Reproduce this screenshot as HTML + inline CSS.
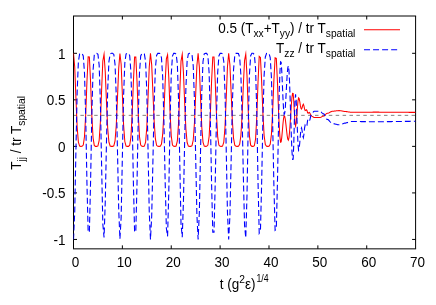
<!DOCTYPE html>
<html><head><meta charset="utf-8"><title>plot</title>
<style>
html,body{margin:0;padding:0;background:#fff;}
svg{display:block;}
text{font-family:"Liberation Sans",sans-serif;fill:#000;}
</style></head><body>
<svg width="436" height="305" viewBox="0 0 436 305">
<rect x="0" y="0" width="436" height="305" fill="#fff"/>

<defs><clipPath id="c"><rect x="73.5" y="16.0" width="342.1" height="232.85"/></clipPath><filter id="idf" x="0" y="0" width="436" height="305" filterUnits="userSpaceOnUse" color-interpolation-filters="sRGB"><feColorMatrix type="matrix" values="1 0 0 0 0 0 1 0 0 0 0 0 1 0 0 0 0 0 1 0"/></filter></defs>
<line x1="73.5" y1="115.35" x2="415.6" y2="115.35" stroke="#000" stroke-width="0.5" stroke-dasharray="3.5 3.4"/>
<g stroke="#000" stroke-width="1" fill="none">
<line x1="73.0" y1="16.0" x2="416.1" y2="16.0"/>
<line x1="73.0" y1="248.85" x2="416.1" y2="248.85"/>
<line x1="73.5" y1="16.0" x2="73.5" y2="248.85"/>
<line x1="415.6" y1="16.0" x2="415.6" y2="248.85"/>
<line x1="122.37" y1="248.85" x2="122.37" y2="245.35"/>
<line x1="122.37" y1="16.0" x2="122.37" y2="19.5"/>
<line x1="171.24" y1="248.85" x2="171.24" y2="245.35"/>
<line x1="171.24" y1="16.0" x2="171.24" y2="19.5"/>
<line x1="220.11" y1="248.85" x2="220.11" y2="245.35"/>
<line x1="220.11" y1="16.0" x2="220.11" y2="19.5"/>
<line x1="268.99" y1="248.85" x2="268.99" y2="245.35"/>
<line x1="268.99" y1="16.0" x2="268.99" y2="19.5"/>
<line x1="317.86" y1="248.85" x2="317.86" y2="245.35"/>
<line x1="317.86" y1="16.0" x2="317.86" y2="19.5"/>
<line x1="366.73" y1="248.85" x2="366.73" y2="245.35"/>
<line x1="366.73" y1="16.0" x2="366.73" y2="19.5"/>
<line x1="73.5" y1="239.44" x2="77.0" y2="239.44"/>
<line x1="415.6" y1="239.44" x2="412.1" y2="239.44"/>
<line x1="73.5" y1="192.91" x2="77.0" y2="192.91"/>
<line x1="415.6" y1="192.91" x2="412.1" y2="192.91"/>
<line x1="73.5" y1="146.37" x2="77.0" y2="146.37"/>
<line x1="415.6" y1="146.37" x2="412.1" y2="146.37"/>
<line x1="73.5" y1="99.84" x2="77.0" y2="99.84"/>
<line x1="415.6" y1="99.84" x2="412.1" y2="99.84"/>
<line x1="73.5" y1="53.30" x2="77.0" y2="53.30"/>
<line x1="415.6" y1="53.30" x2="412.1" y2="53.30"/>
</g>
<g clip-path="url(#c)" fill="none" stroke-linejoin="miter" stroke-miterlimit="10">
<polyline points="73.50,53.30 74.72,67.03 75.94,98.28 77.17,127.21 78.39,142.26 79.61,146.11 80.83,146.37 82.05,146.35 83.27,145.07 84.50,136.58 85.72,114.11 86.94,81.70 88.16,56.91 89.38,57.08 90.61,82.80 91.83,115.77 93.05,137.71 94.27,145.39 95.49,146.36 96.71,146.37 97.94,145.88 99.16,140.46 100.38,121.97 101.60,90.29 102.82,61.02 104.05,54.29 105.27,72.27 106.49,102.40 107.71,128.49 108.93,142.18 110.15,146.02 111.38,146.37 112.60,146.37 113.82,145.80 115.04,140.86 116.26,125.18 117.48,97.61 118.71,68.26 119.93,53.49 121.15,64.23 122.37,94.80 123.59,125.01 124.82,141.53 126.04,146.02 127.26,146.37 128.48,146.36 129.70,145.22 130.92,137.10 132.15,114.89 133.37,82.28 134.59,57.12 135.81,57.05 137.03,81.80 138.26,114.16 139.48,136.59 140.70,145.07 141.92,146.35 143.14,146.37 144.36,146.11 145.59,142.26 146.81,127.21 148.03,98.28 149.25,67.03 150.47,53.30 151.70,64.88 152.92,92.49 154.14,120.84 155.36,138.69 156.58,145.29 157.80,146.35 159.03,146.37 160.25,146.25 161.47,144.11 162.69,134.44 163.91,112.70 165.13,82.96 166.36,58.90 167.58,54.86 168.80,77.49 170.02,111.29 171.24,135.74 172.47,145.01 173.69,146.35 174.91,146.37 176.13,145.99 177.35,140.99 178.57,122.90 179.80,90.95 181.02,61.08 182.24,54.36 183.46,72.79 184.68,103.25 185.91,129.23 187.13,142.52 188.35,146.08 189.57,146.37 190.79,146.36 192.01,145.64 193.24,139.99 194.46,122.96 195.68,94.33 196.90,65.55 198.12,53.30 199.35,67.03 200.57,98.28 201.79,127.21 203.01,142.26 204.23,146.11 205.45,146.37 206.68,146.35 207.90,145.07 209.12,136.58 210.34,114.11 211.56,81.70 212.79,56.91 214.01,56.91 215.23,81.70 216.45,114.11 217.67,136.58 218.89,145.07 220.12,146.35 221.34,146.37 222.56,146.11 223.78,142.26 225.00,127.21 226.22,98.28 227.45,67.03 228.67,53.30 229.89,64.73 231.11,92.06 232.33,120.32 233.56,138.35 234.78,145.18 236.00,146.34 237.22,146.37 238.44,146.28 239.66,144.40 240.89,135.51 242.11,114.82 243.33,85.51 244.55,60.46 245.77,54.09 247.00,75.62 248.22,110.46 249.44,135.84 250.66,145.15 251.88,146.36 253.10,146.37 254.33,145.75 255.55,139.07 256.77,117.32 257.99,82.94 259.21,56.44 260.44,57.53 261.66,81.65 262.88,112.78 264.10,135.20 265.32,144.55 266.54,146.31 267.77,146.37 268.99,146.29 270.21,144.28 271.43,134.32 272.65,111.37 273.88,80.58 275.10,57.89 276.32,58.39 277.55,84.20 278.15,100.66 278.75,116.07 279.35,128.50 279.95,137.12 280.55,142.14 281.15,141.89 281.75,137.59 282.35,131.07 282.95,124.07 283.55,118.47 284.15,115.77 284.75,116.41 285.35,119.59 285.95,124.57 286.55,130.28 287.15,135.47 287.75,139.01 288.35,140.12 288.95,137.83 289.55,132.00 290.15,123.58 290.75,113.97 291.35,104.77 291.95,97.49 292.55,93.34 293.15,93.42 293.75,100.69 294.35,112.28 294.95,122.36 295.55,125.88 296.15,123.13 296.75,116.58 297.35,108.43 297.95,101.43 298.55,97.94 299.15,98.55 299.75,101.52 300.35,105.41 300.95,108.38 301.55,109.07 302.15,107.48 302.75,105.16 303.35,104.22 303.95,105.89 304.55,108.95 305.15,110.62 305.75,110.32 306.35,109.77 306.95,110.31 307.55,112.72 308.15,113.25 308.75,112.65 309.35,112.44 309.95,113.23 310.55,114.62 311.15,115.81 311.75,116.13 312.35,116.35 312.95,116.77 313.55,117.19 314.15,117.42 314.75,117.43 315.35,117.43 315.95,117.43 316.55,117.43 317.15,117.43 317.75,117.43 318.35,117.43 318.95,117.43 319.55,117.43 320.15,117.41 320.75,117.25 321.35,116.97 321.95,116.63 322.55,116.33 323.15,116.15 323.75,116.09 324.35,115.77 324.95,115.19 325.55,114.49 326.15,113.85 326.75,113.43 327.35,113.33 327.95,113.23 328.55,113.03 329.15,112.73 329.75,112.38 330.35,112.02 330.95,111.68 331.55,111.41 332.15,111.24 332.75,111.19 333.35,111.18 333.95,111.14 334.55,111.08 335.15,111.01 335.75,110.93 336.35,110.85 336.95,110.77 337.55,110.71 338.15,110.66 338.75,110.64 339.35,110.63 339.95,110.67 340.55,110.73 341.15,110.83 341.75,110.94 342.35,111.06 342.95,111.18 343.55,111.29 344.15,111.38 344.75,111.44 345.35,111.47 345.95,111.54 346.55,111.63 347.15,111.72 347.75,111.81 348.35,111.90 348.95,111.99 349.55,112.09 350.15,112.18 350.75,112.27 351.35,112.30 351.95,112.30 352.55,112.29 353.15,112.29 353.75,112.29 354.35,112.28 354.95,112.28 355.55,112.27 356.15,112.27 356.75,112.26 357.35,112.26 357.95,112.25 358.55,112.25 359.15,112.25 359.75,112.24 360.35,112.24 360.95,112.23 361.55,112.23 362.15,112.22 362.75,112.22 363.35,112.21 363.95,112.21 364.55,112.21 365.15,112.20 365.75,112.20 366.35,112.19 366.95,112.19 367.55,112.18 368.15,112.18 368.75,112.17 369.35,112.17 369.95,112.17 370.55,112.16 371.15,112.16 371.75,112.15 372.35,112.15 372.95,112.14 373.55,112.14 374.15,112.13 374.75,112.13 375.35,112.13 375.95,112.12 376.55,112.12 377.15,112.13 377.75,112.13 378.35,112.14 378.95,112.14 379.55,112.15 380.15,112.15 380.75,112.15 381.35,112.16 381.95,112.16 382.55,112.17 383.15,112.17 383.75,112.17 384.35,112.18 384.95,112.18 385.55,112.19 386.15,112.19 386.75,112.20 387.35,112.20 387.95,112.20 388.55,112.21 389.15,112.21 389.75,112.22 390.35,112.22 390.95,112.23 391.55,112.23 392.15,112.23 392.75,112.24 393.35,112.24 393.95,112.25 394.55,112.25 395.15,112.26 395.75,112.26 396.35,112.26 396.95,112.27 397.55,112.27 398.15,112.28 398.75,112.28 399.35,112.28 399.95,112.29 400.55,112.29 401.15,112.30 401.75,112.30 402.35,112.31 402.95,112.31 403.55,112.31 404.15,112.32 404.75,112.32 405.35,112.33 405.95,112.33 406.55,112.34 407.15,112.34 407.75,112.34 408.35,112.35 408.95,112.35 409.55,112.36 410.15,112.36 410.75,112.37 411.35,112.37 411.95,112.37 412.55,112.38 413.15,112.38 413.75,112.39 414.35,112.39 414.95,112.39 415.55,112.40 415.60,112.40" stroke="#ff0000" stroke-width="1.05"/>
<polyline points="73.50,239.44 74.72,211.98 75.94,149.49 77.17,91.62 78.39,61.52 79.61,53.82 80.83,53.30 82.05,53.34 83.27,55.90 84.50,72.89 85.72,117.81 86.94,182.64 88.16,232.22 89.38,231.89 90.61,180.43 91.83,114.49 93.05,70.61 94.27,55.26 95.49,53.32 96.71,53.30 97.94,54.27 99.16,65.13 100.38,102.10 101.60,165.46 102.82,224.01 104.05,237.47 105.27,201.50 106.49,141.24 107.71,89.05 108.93,61.68 110.15,54.00 111.38,53.30 112.60,53.31 113.82,54.45 115.04,64.32 116.26,95.67 117.48,150.82 118.71,209.52 119.93,239.05 121.15,217.57 122.37,156.44 123.59,96.01 124.82,62.98 126.04,53.99 127.26,53.30 128.48,53.33 129.70,55.60 130.92,71.84 132.15,116.26 133.37,181.49 134.59,231.81 135.81,231.95 137.03,182.45 138.26,117.71 139.48,72.86 140.70,55.90 141.92,53.34 143.14,53.30 144.36,53.82 145.59,61.52 146.81,91.62 148.03,149.49 149.25,211.98 150.47,239.44 151.70,216.27 152.92,161.06 154.14,104.37 155.36,68.66 156.58,55.47 157.80,53.35 159.03,53.30 160.25,53.53 161.47,57.82 162.69,77.15 163.91,120.64 165.13,180.12 166.36,228.24 167.58,236.31 168.80,191.07 170.02,123.45 171.24,74.57 172.47,56.02 173.69,53.34 174.91,53.30 176.13,54.06 177.35,64.05 178.57,100.25 179.80,164.14 181.02,223.87 182.24,237.32 183.46,200.46 184.68,139.54 185.91,87.59 187.13,61.00 188.35,53.88 189.57,53.30 190.79,53.31 192.01,54.75 193.24,66.06 194.46,100.12 195.68,157.39 196.90,214.95 198.12,239.44 199.35,211.98 200.57,149.49 201.79,91.62 203.01,61.52 204.23,53.82 205.45,53.30 206.68,53.34 207.90,55.90 209.12,72.89 210.34,117.81 211.56,182.64 212.79,232.22 214.01,232.22 215.23,182.64 216.45,117.81 217.67,72.89 218.89,55.90 220.12,53.34 221.34,53.30 222.56,53.82 223.78,61.52 225.00,91.62 226.22,149.49 227.45,211.98 228.67,239.44 229.89,216.58 231.11,161.93 232.33,105.40 233.56,69.33 234.78,55.67 236.00,53.36 237.22,53.30 238.44,53.48 239.66,57.23 240.89,75.01 242.11,116.40 243.33,175.01 244.55,225.12 245.77,237.85 247.00,194.81 248.22,125.13 249.44,74.37 250.66,55.74 251.88,53.32 253.10,53.30 254.33,54.53 255.55,67.91 256.77,111.41 257.99,180.16 259.21,233.17 260.44,230.99 261.66,182.75 262.88,120.48 264.10,75.63 265.32,56.95 266.54,53.42 267.77,53.30 268.99,53.46 270.21,57.49 271.43,77.40 272.65,123.30 273.88,184.88 275.10,230.25 276.32,229.25 277.55,177.64 278.15,144.72 278.75,113.91 279.35,89.05 279.95,71.81 280.55,61.77 281.15,62.26 281.75,70.86 282.35,83.90 282.95,97.89 283.55,109.09 284.15,114.49 284.75,113.21 285.35,106.86 285.95,96.89 286.55,85.47 287.15,75.09 287.75,68.02 288.35,65.80 288.95,70.37 289.55,82.04 290.15,98.88 290.75,118.09 291.35,136.50 291.95,151.06 292.55,159.35 293.15,159.20 293.75,144.67 294.35,121.49 294.95,101.32 295.55,94.28 296.15,99.78 296.75,112.89 297.35,129.19 297.95,143.18 298.55,150.16 299.15,148.94 299.75,142.99 300.35,135.23 300.95,129.28 301.55,127.91 302.15,131.09 302.75,135.72 303.35,137.60 303.95,134.26 304.55,128.14 305.15,124.80 305.75,125.40 306.35,126.50 306.95,125.42 307.55,120.60 308.15,119.54 308.75,120.74 309.35,121.17 309.95,119.59 310.55,116.79 311.15,114.42 311.75,113.78 312.35,113.33 312.95,112.49 313.55,111.65 314.15,111.21 314.75,111.19 315.35,111.19 315.95,111.19 316.55,111.19 317.15,111.19 317.75,111.19 318.35,111.19 318.95,111.19 319.55,111.19 320.15,111.22 320.75,111.53 321.35,112.10 321.95,112.77 322.55,113.37 323.15,113.74 323.75,113.86 324.35,114.49 324.95,115.66 325.55,117.06 326.15,118.34 326.75,119.18 327.35,119.39 327.95,119.57 328.55,119.99 329.15,120.58 329.75,121.28 330.35,122.01 330.95,122.68 331.55,123.22 332.15,123.56 332.75,123.66 333.35,123.69 333.95,123.76 334.55,123.88 335.15,124.02 335.75,124.18 336.35,124.34 336.95,124.49 337.55,124.62 338.15,124.72 338.75,124.77 339.35,124.77 339.95,124.71 340.55,124.57 341.15,124.39 341.75,124.16 342.35,123.92 342.95,123.68 343.55,123.46 344.15,123.28 344.75,123.16 345.35,123.10 345.95,122.97 346.55,122.78 347.15,122.60 347.75,122.42 348.35,122.23 348.95,122.05 349.55,121.87 350.15,121.69 350.75,121.50 351.35,121.43 351.95,121.44 352.55,121.45 353.15,121.46 353.75,121.47 354.35,121.48 354.95,121.49 355.55,121.49 356.15,121.50 356.75,121.51 357.35,121.52 357.95,121.53 358.55,121.54 359.15,121.55 359.75,121.56 360.35,121.57 360.95,121.58 361.55,121.58 362.15,121.59 362.75,121.60 363.35,121.61 363.95,121.62 364.55,121.63 365.15,121.64 365.75,121.65 366.35,121.66 366.95,121.66 367.55,121.67 368.15,121.68 368.75,121.69 369.35,121.70 369.95,121.71 370.55,121.72 371.15,121.73 371.75,121.74 372.35,121.75 372.95,121.75 373.55,121.76 374.15,121.77 374.75,121.78 375.35,121.79 375.95,121.80 376.55,121.79 377.15,121.78 377.75,121.77 378.35,121.77 378.95,121.76 379.55,121.75 380.15,121.74 380.75,121.73 381.35,121.72 381.95,121.72 382.55,121.71 383.15,121.70 383.75,121.69 384.35,121.68 384.95,121.67 385.55,121.66 386.15,121.66 386.75,121.65 387.35,121.64 387.95,121.63 388.55,121.62 389.15,121.61 389.75,121.61 390.35,121.60 390.95,121.59 391.55,121.58 392.15,121.57 392.75,121.56 393.35,121.55 393.95,121.55 394.55,121.54 395.15,121.53 395.75,121.52 396.35,121.51 396.95,121.50 397.55,121.50 398.15,121.49 398.75,121.48 399.35,121.47 399.95,121.46 400.55,121.45 401.15,121.44 401.75,121.44 402.35,121.43 402.95,121.42 403.55,121.41 404.15,121.40 404.75,121.39 405.35,121.39 405.95,121.38 406.55,121.37 407.15,121.36 407.75,121.35 408.35,121.34 408.95,121.33 409.55,121.33 410.15,121.32 410.75,121.31 411.35,121.30 411.95,121.29 412.55,121.28 413.15,121.28 413.75,121.27 414.35,121.26 414.95,121.25 415.55,121.24 415.60,121.24" stroke="#0000ff" stroke-width="1.1" stroke-dasharray="6 3"/>
</g>
<line x1="364" y1="29.75" x2="400" y2="29.75" stroke="#ff0000" stroke-width="1.05"/>
<line x1="364" y1="49.7" x2="397.4" y2="49.7" stroke="#0000ff" stroke-width="1.1" stroke-dasharray="6 3.05"/>
<g filter="url(#idf)">
<text transform="translate(75.50,267.40) scale(1,1.05)" font-size="13.5" text-anchor="middle">0</text>
<text transform="translate(124.37,267.40) scale(1,1.05)" font-size="13.5" text-anchor="middle">10</text>
<text transform="translate(173.24,267.40) scale(1,1.05)" font-size="13.5" text-anchor="middle">20</text>
<text transform="translate(222.11,267.40) scale(1,1.05)" font-size="13.5" text-anchor="middle">30</text>
<text transform="translate(270.99,267.40) scale(1,1.05)" font-size="13.5" text-anchor="middle">40</text>
<text transform="translate(319.86,267.40) scale(1,1.05)" font-size="13.5" text-anchor="middle">50</text>
<text transform="translate(368.73,267.40) scale(1,1.05)" font-size="13.5" text-anchor="middle">60</text>
<text transform="translate(417.60,267.40) scale(1,1.05)" font-size="13.5" text-anchor="middle">70</text>
<text transform="translate(65.40,244.74) scale(1,1.05)" font-size="13.5" text-anchor="end">-1</text>
<text transform="translate(65.40,198.21) scale(1,1.05)" font-size="13.5" text-anchor="end">-0.5</text>
<text transform="translate(65.40,151.67) scale(1,1.05)" font-size="13.5" text-anchor="end">0</text>
<text transform="translate(65.40,105.14) scale(1,1.05)" font-size="13.5" text-anchor="end">0.5</text>
<text transform="translate(65.40,58.60) scale(1,1.05)" font-size="13.5" text-anchor="end">1</text>
<text transform="translate(355.40,33.20) scale(1,1.05)" font-size="13.5" text-anchor="end">0.5 (T<tspan font-size="10.25" dy="3.7">xx</tspan><tspan dy="-3.7">+T</tspan><tspan font-size="10.25" dy="3.7">yy</tspan><tspan dy="-3.7">) / tr T</tspan><tspan font-size="10.25" dy="3.7">spatial</tspan></text>
<text transform="translate(355.40,53.00) scale(1,1.05)" font-size="13.5" text-anchor="end">T<tspan font-size="10.25" dy="3.7">zz</tspan><tspan dy="-3.7"> / tr T</tspan><tspan font-size="10.25" dy="3.7">spatial</tspan></text>
<text transform="translate(244.20,288.70) scale(1,1.05)" font-size="13.5" text-anchor="middle">t (g<tspan font-size="10.25" dy="-5.9">2</tspan><tspan dy="5.9">ε)</tspan><tspan font-size="10.6" dx="0.9" dy="-6.2" textLength="12.2" lengthAdjust="spacingAndGlyphs">1/4</tspan></text>
<text transform="translate(21.20,132.90) rotate(-90) scale(1,1.05)" font-size="13.5" text-anchor="middle">T<tspan font-size="10.25" dy="3.6">jj</tspan><tspan dy="-3.6"> / tr T</tspan><tspan font-size="10.25" dy="3.6">spatial</tspan></text>
</g>
</svg></body></html>
